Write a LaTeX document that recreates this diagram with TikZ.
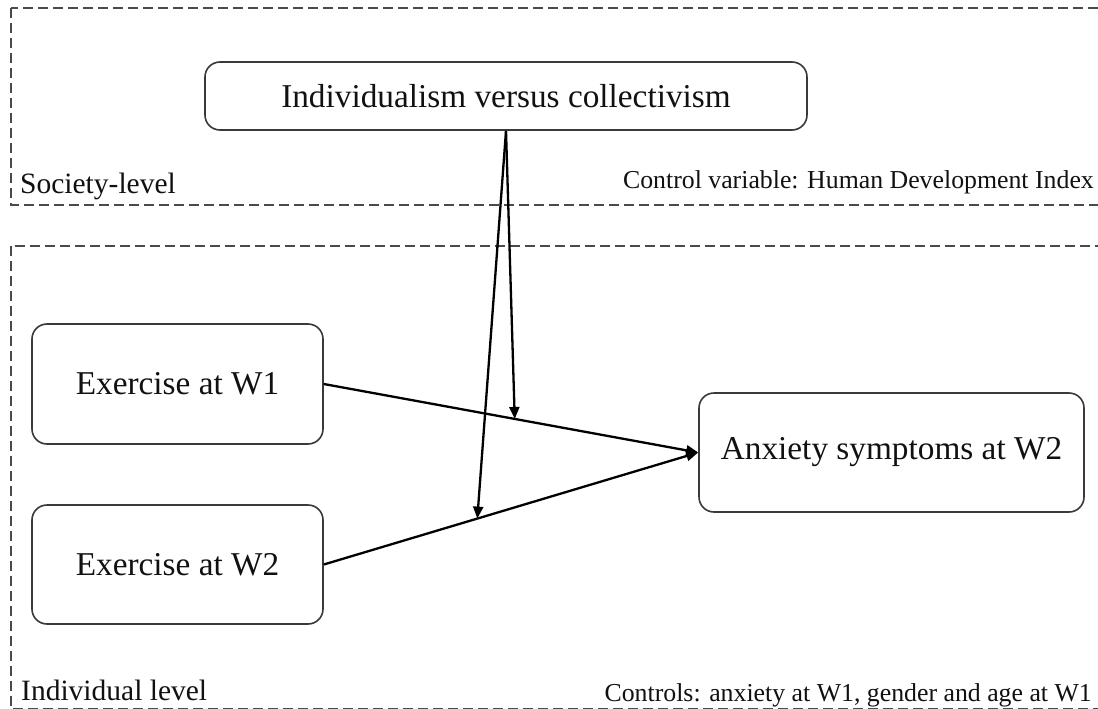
\documentclass[tikz,border=0pt]{standalone}
\usepackage{fontspec}
\setmainfont{Liberation Serif}
\usepackage{xcolor}
\usepackage{tikz}
\usetikzlibrary{arrows.meta,positioning,calc}
\definecolor{ink}{HTML}{111111}
\definecolor{frameline}{HTML}{4A4A4A}
\definecolor{boxline}{HTML}{3A3A3A}

\tikzset{
  level/.style={draw=frameline,line width=1.7pt,dash pattern=on 10pt off 5pt},
  var/.style={draw=boxline,line width=1.6pt,rounded corners=15pt,align=center,
    font=\fontsize{33.3}{40}\selectfont,text=ink},
  lvlname/.style={font=\fontsize{29.5}{35}\selectfont,text=ink,inner sep=0pt},
  ctrl/.style={font=\fontsize{25.8}{31}\selectfont,text=ink,inner sep=0pt},
  path/.style={draw=black,line width=2.3pt,-{Triangle[length=12pt,width=10pt]}},
}

\begin{document}
\begin{tikzpicture}[x=1pt,y=-1pt]
\useasboundingbox (0,0) rectangle (1098,709);
\fill[white] (0,0) rectangle (1098,709);

% the two levels
\draw[level] (11,8) rectangle (1115,205);
\draw[level] (11,246) rectangle (1115,709);
\node[lvlname,anchor=base west] (soclab) at (20,193) {Society-level};
\node[ctrl,anchor=base east] (hdi) at (1094,188) {Control variable: Human Development Index};
\node[lvlname,anchor=base west] (indlab) at (21,700) {Individual level};
\node[ctrl,anchor=base east] (covs) at (1092,701) {Controls: anxiety at W1, gender and age at W1};

% variables
\node[var,minimum width=602pt,minimum height=68pt] (culture) at (506,96) {Individualism versus collectivism};
\node[var,minimum width=291pt,minimum height=120pt] (exone) at (177.5,384) {Exercise at W1};
\node[var,minimum width=291pt,minimum height=119pt] (extwo) at (177.5,564.5) {Exercise at W2};
\node[var,minimum width=385pt,minimum height=119pt] (anx) at (891.5,452.5) {Anxiety symptoms at W2};

% main paths
\draw[path] (exone.east) -- (anx.west);
\draw[path] (extwo.east) -- (anx.west);

% moderation
\coordinate (modone) at ($(exone.east)!0.51!(anx.west)$);
\coordinate (modtwo) at ($(extwo.east)!0.41!(anx.west)$);
\draw[path] (culture.south) -- (modone);
\draw[path] (culture.south) -- (modtwo);
\end{tikzpicture}
\end{document}
